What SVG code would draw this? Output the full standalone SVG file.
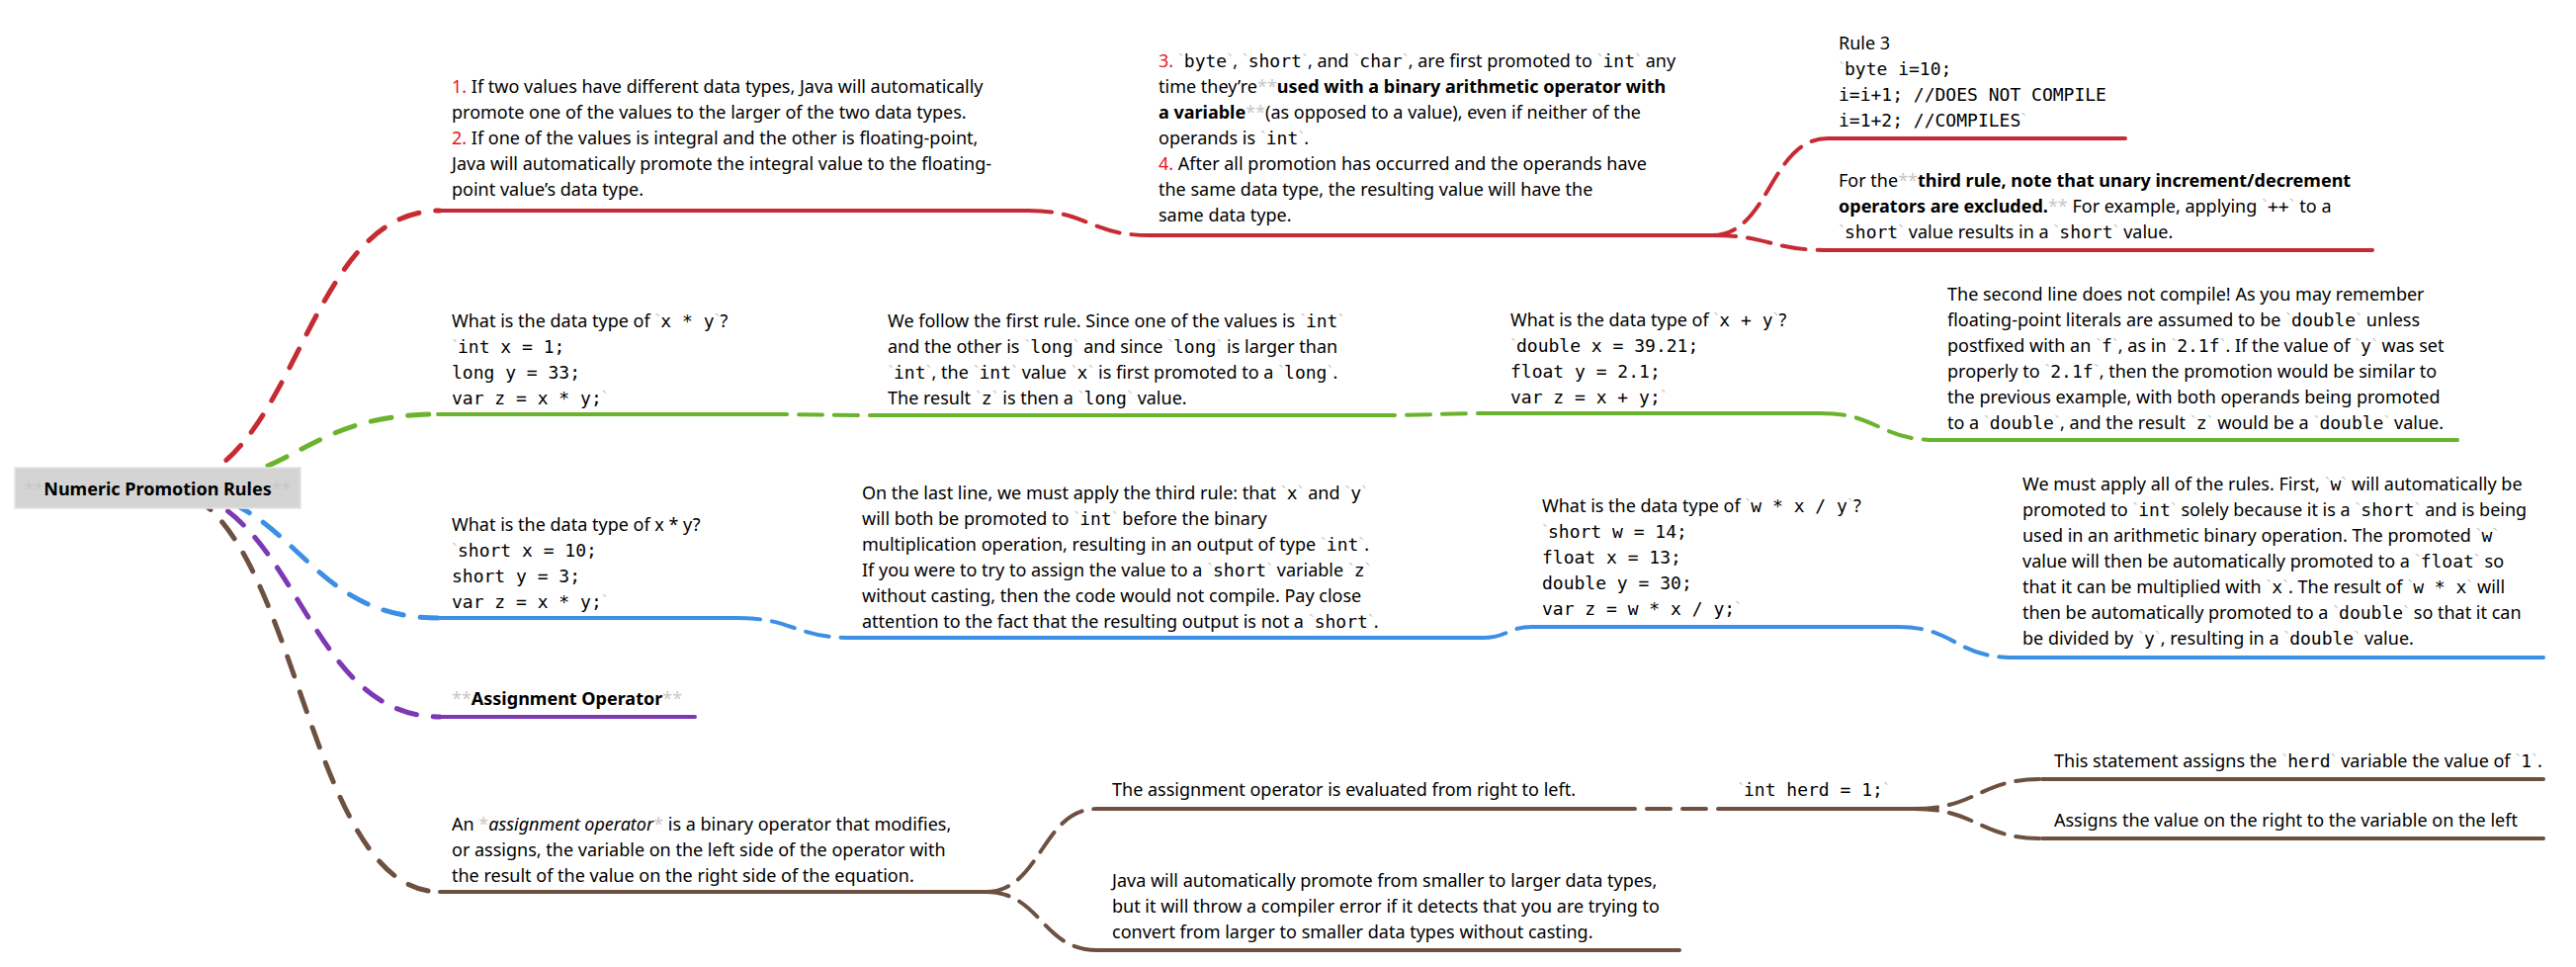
<svg xmlns="http://www.w3.org/2000/svg" width="2606" height="978" viewBox="0 0 2606 978">
<style>
.t{font-family:"Noto Sans","Open Sans",sans-serif;font-size:18px;fill:#000}
.m{font-family:"DejaVu Sans Mono",monospace}
.b{font-weight:bold}
.i{font-style:italic}
.g{fill:#c8c8c8;font-weight:normal}
.q{font-family:"Liberation Sans",sans-serif;fill:#c8c8c8}
.r{fill:#e8141b}
.u{fill:none;stroke-width:4;stroke-linecap:round}
.c{fill:none;stroke-width:4;stroke-linecap:round;stroke-dasharray:24 12}
.c0{fill:none;stroke-width:5;stroke-linecap:round;stroke-dasharray:21 17}
.red{stroke:#c62a33}.grn{stroke:#6ab42d}.blu{stroke:#3b8fe4}.pur{stroke:#7d38b4}.brn{stroke:#6d5040}
</style>
<g id="connectors">
<path class="c0 red" d="M160 493 C302.5 493 302.5 213 445 213"/>
<path class="c red" d="M1040 213 C1101.5 213 1101.5 238 1163 238"/>
<path class="c red" d="M1732 238 C1790.5 238 1790.5 140 1849 140"/>
<path class="c red" d="M1732 238 C1790.5 238 1790.5 253 1849 253"/>
<path class="c0 grn" d="M160 493 C301.5 493 301.5 419 443 419"/>
<path class="c grn" d="M772 419 C830 419 830 420 888 420"/>
<path class="c grn" d="M1387 420 C1452.5 420 1452.5 418 1518 418"/>
<path class="c grn" d="M1842 418 C1900.5 418 1900.5 445 1959 445"/>
<path class="c0 blu" d="M160 493 C301.5 493 301.5 625 443 625"/>
<path class="c blu" d="M745 625 C803.5 625 803.5 645 862 645"/>
<path class="c blu" d="M1500 645 C1525 645 1525 634 1550 634"/>
<path class="c blu" d="M1920 634 C1978 634 1978 665 2036 665"/>
<path class="c0 pur" d="M160 493 C302.5 493 302.5 725 445 725"/>
<path class="c0 brn" d="M160 493 C302.5 493 302.5 902 445 902"/>
<path class="c brn" d="M997 902 C1053.5 902 1053.5 818 1110 818"/>
<path class="c brn" d="M997 902 C1053.5 902 1053.5 961 1110 961"/>
<path class="c brn" d="M1630 818 L1748 818"/>
<path class="c brn" d="M1936 818 C2001 818 2001 788 2066 788"/>
<path class="c brn" d="M1936 818 C2001 818 2001 848 2066 848"/>
</g>
<g id="root">
<rect x="15" y="473" width="289" height="41" fill="#d4d4d4" stroke="#e4e4e4" stroke-width="1.5"/>
<text class="t b" x="159.5" y="501" text-anchor="middle"><tspan class="g">**</tspan>Numeric Promotion Rules<tspan class="g">**</tspan></text>
</g>
<g id="rule12">
<line class="u red" x1="445" y1="213" x2="1040" y2="213"/>
<text class="t" x="457" y="94"><tspan class="r">1.</tspan> If two values have different data types, Java will automatically</text>
<text class="t" x="457" y="120">promote one of the values to the larger of the two data types.</text>
<text class="t" x="457" y="146"><tspan class="r">2.</tspan> If one of the values is integral and the other is floating-point,</text>
<text class="t" x="457" y="172">Java will automatically promote the integral value to the floating-</text>
<text class="t" x="457" y="198">point value’s data type.</text>
</g>
<g id="rule34">
<line class="u red" x1="1163" y1="238" x2="1732" y2="238"/>
<text class="t" x="1172" y="68"><tspan class="r">3.</tspan> <tspan class="q">`</tspan><tspan class="m">byte</tspan><tspan class="q">`</tspan>, <tspan class="q">`</tspan><tspan class="m">short</tspan><tspan class="q">`</tspan>, and <tspan class="q">`</tspan><tspan class="m">char</tspan><tspan class="q">`</tspan>, are first promoted to <tspan class="q">`</tspan><tspan class="m">int</tspan><tspan class="q">`</tspan> any</text>
<text class="t" x="1172" y="94">time they’re<tspan class="g">**</tspan><tspan class="b">used with a binary arithmetic operator with</tspan></text>
<text class="t" x="1172" y="120"><tspan class="b">a variable</tspan><tspan class="g">**</tspan>(as opposed to a value), even if neither of the</text>
<text class="t" x="1172" y="146">operands is <tspan class="q">`</tspan><tspan class="m">int</tspan><tspan class="q">`</tspan>.</text>
<text class="t" x="1172" y="172"><tspan class="r">4.</tspan> After all promotion has occurred and the operands have</text>
<text class="t" x="1172" y="198">the same data type, the resulting value will have the</text>
<text class="t" x="1172" y="224">same data type.</text>
</g>
<g id="rule3ex">
<line class="u red" x1="1849" y1="140" x2="2150" y2="140"/>
<text class="t" x="1860" y="50">Rule 3</text>
<text class="t" x="1860" y="76"><tspan class="q">`</tspan><tspan class="m">byte i=10;</tspan></text>
<text class="t m" x="1860" y="102">i=i+1; //DOES NOT COMPILE</text>
<text class="t" x="1860" y="128"><tspan class="m">i=1+2; //COMPILES</tspan><tspan class="q">`</tspan></text>
</g>
<g id="rule3note">
<line class="u red" x1="1849" y1="253" x2="2400" y2="253"/>
<text class="t" x="1860" y="189">For the<tspan class="g">**</tspan><tspan class="b">third rule, note that unary increment/decrement</tspan></text>
<text class="t" x="1860" y="215"><tspan class="b">operators are excluded.</tspan><tspan class="g">**</tspan> For example, applying <tspan class="q">`</tspan><tspan class="m">++</tspan><tspan class="q">`</tspan> to a</text>
<text class="t" x="1860" y="241"><tspan class="q">`</tspan><tspan class="m">short</tspan><tspan class="q">`</tspan> value results in a <tspan class="q">`</tspan><tspan class="m">short</tspan><tspan class="q">`</tspan> value.</text>
</g>
<g id="ex1">
<line class="u grn" x1="443" y1="419" x2="772" y2="419"/>
<text class="t" x="457" y="331">What is the data type of <tspan class="q">`</tspan><tspan class="m">x * y</tspan><tspan class="q">`</tspan>?</text>
<text class="t" x="457" y="357"><tspan class="q">`</tspan><tspan class="m">int x = 1;</tspan></text>
<text class="t m" x="457" y="383">long y = 33;</text>
<text class="t" x="457" y="409"><tspan class="m">var z = x * y;</tspan><tspan class="q">`</tspan></text>
</g>
<g id="ex1ans">
<line class="u grn" x1="888" y1="420" x2="1387" y2="420"/>
<text class="t" x="898" y="331">We follow the first rule. Since one of the values is <tspan class="q">`</tspan><tspan class="m">int</tspan><tspan class="q">`</tspan></text>
<text class="t" x="898" y="357">and the other is <tspan class="q">`</tspan><tspan class="m">long</tspan><tspan class="q">`</tspan> and since <tspan class="q">`</tspan><tspan class="m">long</tspan><tspan class="q">`</tspan> is larger than</text>
<text class="t" x="898" y="383"><tspan class="q">`</tspan><tspan class="m">int</tspan><tspan class="q">`</tspan>, the <tspan class="q">`</tspan><tspan class="m">int</tspan><tspan class="q">`</tspan> value <tspan class="q">`</tspan><tspan class="m">x</tspan><tspan class="q">`</tspan> is first promoted to a <tspan class="q">`</tspan><tspan class="m">long</tspan><tspan class="q">`</tspan>.</text>
<text class="t" x="898" y="409">The result <tspan class="q">`</tspan><tspan class="m">z</tspan><tspan class="q">`</tspan> is then a <tspan class="q">`</tspan><tspan class="m">long</tspan><tspan class="q">`</tspan> value.</text>
</g>
<g id="ex2">
<line class="u grn" x1="1518" y1="418" x2="1842" y2="418"/>
<text class="t" x="1528" y="330">What is the data type of <tspan class="q">`</tspan><tspan class="m">x + y</tspan><tspan class="q">`</tspan>?</text>
<text class="t" x="1528" y="356"><tspan class="q">`</tspan><tspan class="m">double x = 39.21;</tspan></text>
<text class="t m" x="1528" y="382">float y = 2.1;</text>
<text class="t" x="1528" y="408"><tspan class="m">var z = x + y;</tspan><tspan class="q">`</tspan></text>
</g>
<g id="ex2ans">
<line class="u grn" x1="1959" y1="445" x2="2486" y2="445"/>
<text class="t" x="1970" y="304">The second line does not compile! As you may remember</text>
<text class="t" x="1970" y="330">floating-point literals are assumed to be <tspan class="q">`</tspan><tspan class="m">double</tspan><tspan class="q">`</tspan> unless</text>
<text class="t" x="1970" y="356">postfixed with an <tspan class="q">`</tspan><tspan class="m">f</tspan><tspan class="q">`</tspan>, as in <tspan class="q">`</tspan><tspan class="m">2.1f</tspan><tspan class="q">`</tspan>. If the value of <tspan class="q">`</tspan><tspan class="m">y</tspan><tspan class="q">`</tspan> was set</text>
<text class="t" x="1970" y="382">properly to <tspan class="q">`</tspan><tspan class="m">2.1f</tspan><tspan class="q">`</tspan>, then the promotion would be similar to</text>
<text class="t" x="1970" y="408">the previous example, with both operands being promoted</text>
<text class="t" x="1970" y="434">to a <tspan class="q">`</tspan><tspan class="m">double</tspan><tspan class="q">`</tspan>, and the result <tspan class="q">`</tspan><tspan class="m">z</tspan><tspan class="q">`</tspan> would be a <tspan class="q">`</tspan><tspan class="m">double</tspan><tspan class="q">`</tspan> value.</text>
</g>
<g id="ex3">
<line class="u blu" x1="443" y1="625" x2="745" y2="625"/>
<text class="t" x="457" y="537">What is the data type of x * y?</text>
<text class="t" x="457" y="563"><tspan class="q">`</tspan><tspan class="m">short x = 10;</tspan></text>
<text class="t m" x="457" y="589">short y = 3;</text>
<text class="t" x="457" y="615"><tspan class="m">var z = x * y;</tspan><tspan class="q">`</tspan></text>
</g>
<g id="ex3ans">
<line class="u blu" x1="862" y1="645" x2="1500" y2="645"/>
<text class="t" x="872" y="505">On the last line, we must apply the third rule: that <tspan class="q">`</tspan><tspan class="m">x</tspan><tspan class="q">`</tspan> and <tspan class="q">`</tspan><tspan class="m">y</tspan><tspan class="q">`</tspan></text>
<text class="t" x="872" y="531">will both be promoted to <tspan class="q">`</tspan><tspan class="m">int</tspan><tspan class="q">`</tspan> before the binary</text>
<text class="t" x="872" y="557">multiplication operation, resulting in an output of type <tspan class="q">`</tspan><tspan class="m">int</tspan><tspan class="q">`</tspan>.</text>
<text class="t" x="872" y="583">If you were to try to assign the value to a <tspan class="q">`</tspan><tspan class="m">short</tspan><tspan class="q">`</tspan> variable <tspan class="q">`</tspan><tspan class="m">z</tspan><tspan class="q">`</tspan></text>
<text class="t" x="872" y="609">without casting, then the code would not compile. Pay close</text>
<text class="t" x="872" y="635">attention to the fact that the resulting output is not a <tspan class="q">`</tspan><tspan class="m">short</tspan><tspan class="q">`</tspan>.</text>
</g>
<g id="ex4">
<line class="u blu" x1="1550" y1="634" x2="1920" y2="634"/>
<text class="t" x="1560" y="518">What is the data type of <tspan class="q">`</tspan><tspan class="m">w * x / y</tspan><tspan class="q">`</tspan>?</text>
<text class="t" x="1560" y="544"><tspan class="q">`</tspan><tspan class="m">short w = 14;</tspan></text>
<text class="t m" x="1560" y="570">float x = 13;</text>
<text class="t m" x="1560" y="596">double y = 30;</text>
<text class="t" x="1560" y="622"><tspan class="m">var z = w * x / y;</tspan><tspan class="q">`</tspan></text>
</g>
<g id="ex4ans">
<line class="u blu" x1="2036" y1="665" x2="2573" y2="665"/>
<text class="t" x="2046" y="496">We must apply all of the rules. First, <tspan class="q">`</tspan><tspan class="m">w</tspan><tspan class="q">`</tspan> will automatically be</text>
<text class="t" x="2046" y="522">promoted to <tspan class="q">`</tspan><tspan class="m">int</tspan><tspan class="q">`</tspan> solely because it is a <tspan class="q">`</tspan><tspan class="m">short</tspan><tspan class="q">`</tspan> and is being</text>
<text class="t" x="2046" y="548">used in an arithmetic binary operation. The promoted <tspan class="q">`</tspan><tspan class="m">w</tspan><tspan class="q">`</tspan></text>
<text class="t" x="2046" y="574">value will then be automatically promoted to a <tspan class="q">`</tspan><tspan class="m">float</tspan><tspan class="q">`</tspan> so</text>
<text class="t" x="2046" y="600">that it can be multiplied with <tspan class="q">`</tspan><tspan class="m">x</tspan><tspan class="q">`</tspan>. The result of <tspan class="q">`</tspan><tspan class="m">w * x</tspan><tspan class="q">`</tspan> will</text>
<text class="t" x="2046" y="626">then be automatically promoted to a <tspan class="q">`</tspan><tspan class="m">double</tspan><tspan class="q">`</tspan> so that it can</text>
<text class="t" x="2046" y="652">be divided by <tspan class="q">`</tspan><tspan class="m">y</tspan><tspan class="q">`</tspan>, resulting in a <tspan class="q">`</tspan><tspan class="m">double</tspan><tspan class="q">`</tspan> value.</text>
</g>
<g id="assign">
<line class="u pur" x1="445" y1="725" x2="703" y2="725"/>
<text class="t" x="457" y="713"><tspan class="g">**</tspan><tspan class="b">Assignment Operator</tspan><tspan class="g">**</tspan></text>
</g>
<g id="assigndef">
<line class="u brn" x1="445" y1="902" x2="997" y2="902"/>
<text class="t" x="457" y="840">An <tspan class="g">*</tspan><tspan class="i">assignment operator</tspan><tspan class="g">*</tspan> is a binary operator that modifies,</text>
<text class="t" x="457" y="866">or assigns, the variable on the left side of the operator with</text>
<text class="t" x="457" y="892">the result of the value on the right side of the equation.</text>
</g>
<g id="rtl">
<line class="u brn" x1="1110" y1="818" x2="1630" y2="818"/>
<text class="t" x="1125" y="805">The assignment operator is evaluated from right to left.</text>
</g>
<g id="herd">
<line class="u brn" x1="1748" y1="818" x2="1936" y2="818"/>
<text class="t" x="1758" y="805"><tspan class="q">`</tspan><tspan class="m">int herd = 1;</tspan><tspan class="q">`</tspan></text>
</g>
<g id="herdstmt">
<line class="u brn" x1="2066" y1="788" x2="2573" y2="788"/>
<text class="t" x="2078" y="776">This statement assigns the <tspan class="q">`</tspan><tspan class="m">herd</tspan><tspan class="q">`</tspan> variable the value of <tspan class="q">`</tspan><tspan class="m">1</tspan><tspan class="q">`</tspan>.</text>
</g>
<g id="herdassign">
<line class="u brn" x1="2066" y1="848" x2="2573" y2="848"/>
<text class="t" x="2078" y="836">Assigns the value on the right to the variable on the left</text>
</g>
<g id="promote">
<line class="u brn" x1="1110" y1="961" x2="1699" y2="961"/>
<text class="t" x="1125" y="897">Java will automatically promote from smaller to larger data types,</text>
<text class="t" x="1125" y="923">but it will throw a compiler error if it detects that you are trying to</text>
<text class="t" x="1125" y="949">convert from larger to smaller data types without casting.</text>
</g>
</svg>
